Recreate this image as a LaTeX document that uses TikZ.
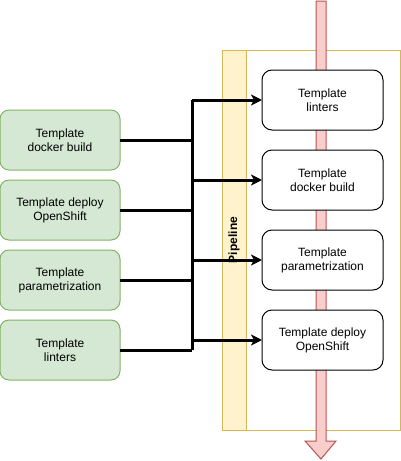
\documentclass[tikz,border=0pt]{standalone}
\usepackage{fontspec}
\setmainfont{Liberation Sans}
\usetikzlibrary{arrows.meta, positioning}
\definecolor{greenfill}{HTML}{D5E8D4}
\definecolor{greenline}{HTML}{82B366}
\definecolor{lanefill}{HTML}{FFF2CC}
\definecolor{laneline}{HTML}{D6B656}
\definecolor{flowfill}{HTML}{F8CECC}
\definecolor{flowline}{HTML}{B85450}
\tikzset{
    block_green/.style={rectangle, draw=greenline, line width=1pt, rounded corners=9pt, fill=greenfill, minimum width=120pt, minimum height=60pt, align=center, inner sep=0pt, outer sep=0pt, font=\fontsize{12}{14}\selectfont},
    block_white/.style={rectangle, draw, line width=1pt, rounded corners=10pt, fill=white, minimum width=121pt, minimum height=60pt, align=center, inner sep=0pt, outer sep=0pt, font=\fontsize{12}{14}\selectfont},
    arrow/.style={-{Stealth[length=11pt,width=11pt,inset=3pt]}, line width=3pt},
    bus/.style={line width=3pt}
}
\begin{document}
\begin{tikzpicture}[x=1pt,y=-1pt,node distance=20pt and 20pt]
\useasboundingbox (0,0) rectangle (401,461);

% Pipeline lane
\draw[laneline, line width=1pt, fill=white] (222,50) rectangle (400,430);
\draw[laneline, line width=1pt, fill=lanefill] (222,50) rectangle (246,430);
\node (lane) [rotate=90, font=\fontsize{12}{14}\selectfont\bfseries] at (234,240) {Pipeline};

% Flow arrow
\draw[flowline, line width=1pt, fill=flowfill] (316,1) -- (326,1) -- (326,441) -- (336,441)
    -- (321,459) -- (305,441) -- (316,441) -- cycle;

% Pipeline steps
\node (plint) [block_white] at (322.5,100) {Template\\linters};
\node (pdock) [block_white,below=of plint] {Template\\docker build};
\node (pparam) [block_white,below=of pdock] {Template\\parametrization};
\node (pdeploy) [block_white,below=of pparam] {Template deploy\\OpenShift};

% Templates
\node (tdock) [block_green] at (60,140) {Template\\docker build};
\node (tdeploy) [block_green,below=10pt of tdock] {Template deploy\\OpenShift};
\node (tparam) [block_green,below=10pt of tdeploy] {Template\\parametrization};
\node (tlint) [block_green,below=10pt of tparam] {Template\\linters};

% Bus
\coordinate (bustop) at (192,100);
\coordinate (busbot) at (192,350);
\draw[bus] (bustop) -- (busbot);
\draw[bus] (tdock.east) -- (tdock.east -| bustop);
\draw[bus] (tdeploy.east) -- (tdeploy.east -| bustop);
\draw[bus] (tparam.east) -- (tparam.east -| bustop);
\draw[bus] (tlint.east) -- (tlint.east -| bustop);

% Into the pipeline
\draw[arrow] (plint.west -| bustop) -- (plint.west);
\draw[arrow] (pdock.west -| bustop) -- (pdock.west);
\draw[arrow] (pparam.west -| bustop) -- (pparam.west);
\draw[arrow] (pdeploy.west -| bustop) -- (pdeploy.west);

\end{tikzpicture}
\end{document}
